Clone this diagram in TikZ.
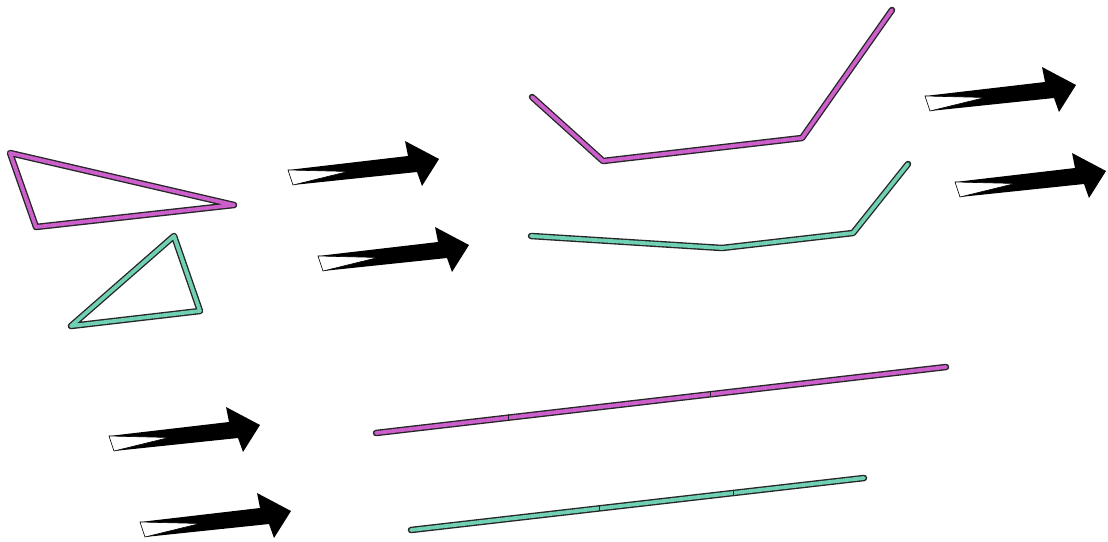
\documentclass[tikz,border=0pt]{standalone}
\usetikzlibrary{calc}
\definecolor{magbar}{HTML}{CC5FCC}
\definecolor{tealbar}{HTML}{70D0B4}
\tikzset{
  x=1pt, y=-1pt,
  barout/.style={draw=black!85, line width=6.5pt, line join=round, line cap=round},
  magin/.style={draw=magbar, line width=3.8pt, line join=round, line cap=round},
  tealin/.style={draw=tealbar, line width=3.8pt, line join=round, line cap=round},
  joint/.style={draw=black!85, line width=0.9pt},
  bigarrow/.pic={
    \fill[black] (0,0) -- (120,-14) -- (117,-29) -- (151,-11) -- (134,16) -- (129,2) -- (5,15) -- cycle;
    \filldraw[fill=white, draw=black, line width=0.6pt, line join=miter] (0,0) -- (60,1.5) -- (5,15) -- cycle;
  }
}
\begin{document}
\begin{tikzpicture}
\useasboundingbox[fill=white] (0,0) rectangle (1108,541);
% triangles
\coordinate (m1) at (10,153); \coordinate (m2) at (234,205); \coordinate (m3) at (36,227);
\coordinate (t1) at (174,236); \coordinate (t2) at (200,311); \coordinate (t3) at (71,326);
\draw[barout] (m1) -- (m2) -- (m3) -- cycle;
\draw[magin] (m1) -- (m2) -- (m3) -- cycle;
\draw[barout] (t1) -- (t2) -- (t3) -- cycle;
\draw[tealin] (t1) -- (t2) -- (t3) -- cycle;
% polylines
\coordinate (p1) at (532,97); \coordinate (p2) at (603,161); \coordinate (p3) at (802,138); \coordinate (p4) at (892,10);
\coordinate (q1) at (531,236); \coordinate (q2) at (722,248); \coordinate (q3) at (853,233); \coordinate (q4) at (908,164);
\draw[barout] (p1) -- (p2) -- (p3) -- (p4);
\draw[magin] (p1) -- (p2) -- (p3) -- (p4);
\draw[barout] (q1) -- (q2) -- (q3) -- (q4);
\draw[tealin] (q1) -- (q2) -- (q3) -- (q4);
% straight lines
\coordinate (r1) at (376,433); \coordinate (r2) at (508,417); \coordinate (r3) at (710,394); \coordinate (r4) at (946,367);
\coordinate (s1) at (411,530); \coordinate (s2) at (599,508); \coordinate (s3) at (733,493); \coordinate (s4) at (864,478);
\draw[barout] (r1) -- (r4);
\draw[magin] (r1) -- (r4);
\draw[barout] (s1) -- (s4);
\draw[tealin] (s1) -- (s4);
\foreach \c in {r2,r3,s2,s3} \draw[joint] ($(\c)+(0,-3.2)$) -- ($(\c)+(0,3.2)$);
% arrows
\pic at (288,170) {bigarrow};
\pic at (318,256) {bigarrow};
\pic at (925,96) {bigarrow};
\pic at (955,182) {bigarrow};
\pic at (109,436) {bigarrow};
\pic at (140,522) {bigarrow};
\end{tikzpicture}
\end{document}
